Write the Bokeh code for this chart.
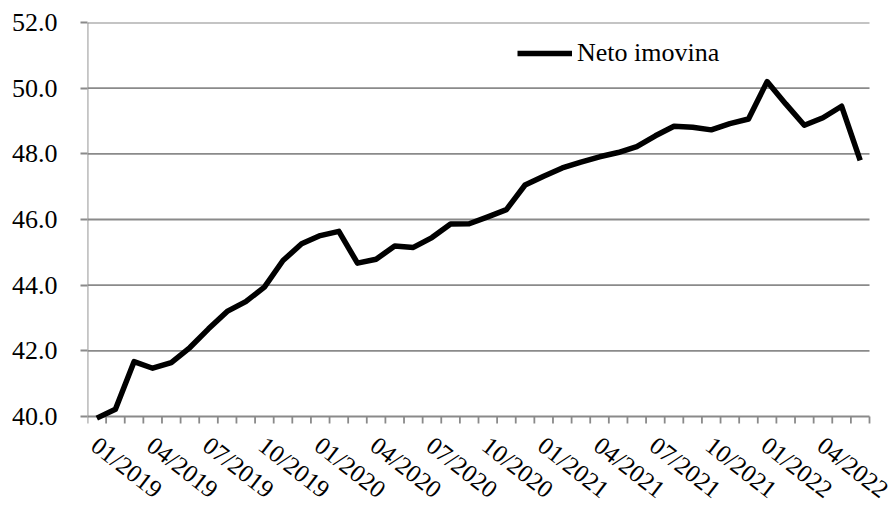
import math
from bokeh.plotting import figure
from bokeh.models import (Range1d, FixedTicker, PrintfTickFormatter, Legend, LegendItem, Label)
from bokeh.embed import file_html
from bokeh.resources import INLINE

# Monthly net assets, 01/2019 .. 06/2022
month_index = list(range(42))
neto_imovina = [
    39.95, 40.22, 41.67, 41.47, 41.64, 42.10, 42.67, 43.20, 43.50, 43.94,
    44.75, 45.26, 45.51, 45.64, 44.67, 44.79, 45.19, 45.15, 45.45, 45.86,
    45.87, 46.08, 46.30, 47.05, 47.32, 47.57, 47.75, 47.91, 48.04, 48.22,
    48.55, 48.84, 48.81, 48.73, 48.92, 49.06, 50.20, 49.52, 48.87, 49.10,
    49.45, 47.80,
]
tick_positions = [0, 3, 6, 9, 12, 15, 18, 21, 24, 27, 30, 33, 36, 39]
tick_labels = ["01/2019", "04/2019", "07/2019", "10/2019", "01/2020", "04/2020",
               "07/2020", "10/2020", "01/2021", "04/2021", "07/2021", "10/2021",
               "01/2022", "04/2022"]
y_ticks = [40, 42, 44, 46, 48, 50, 52]
series_name = "Neto imovina"

FONT = "Liberation Serif"
GRID = "#8a8a8a"
Y_MIN, Y_MAX = 40, 52
N = len(month_index)
X_LO, X_HI = -0.5, N - 0.5

# layout (pixels)
W, H = 895, 505
TOP, LEFT, AXIS_Y, PLOT_RIGHT = 22, 87, 416, 869
px_per_unit = (AXIS_Y - TOP) / (Y_MAX - Y_MIN)
px_per_cat = (PLOT_RIGHT - LEFT) / (X_HI - X_LO)
below = H - AXIS_Y                       # room under the axis for the slanted labels
y_start = Y_MIN - below / px_per_unit   # frame extends to the page bottom ...
x_end = X_HI + (W - PLOT_RIGHT) / px_per_cat  # ... and to the page right edge

p = figure(width=W, height=H, output_backend="svg", toolbar_location=None,
           x_range=Range1d(X_LO, x_end), y_range=Range1d(y_start, Y_MAX),
           min_border_left=LEFT, min_border_right=0, min_border_top=TOP, min_border_bottom=0)
p.outline_line_color = None
p.background_fill_color = "white"
p.border_fill_color = "white"
p.xaxis.visible = False
p.xgrid.grid_line_color = None
p.ygrid.grid_line_color = None

# horizontal grid lines across the plot area (the 40.0 line is the category axis line)
p.segment(x0=[X_LO] * len(y_ticks), y0=y_ticks, x1=[X_HI] * len(y_ticks), y1=y_ticks,
          line_color=GRID, line_width=1.8)
# value axis line and category tick marks between months
p.segment(x0=[X_LO], y0=[Y_MIN], x1=[X_LO], y1=[Y_MAX], line_color=GRID, line_width=1.8)
bounds = [i - 0.5 for i in range(N + 1)]
p.segment(x0=bounds, y0=[Y_MIN] * len(bounds), x1=bounds,
          y1=[Y_MIN - 7 / px_per_unit] * len(bounds), line_color=GRID, line_width=1.8)

line = p.line(month_index, neto_imovina, line_color="black", line_width=5.5, line_join="round")

for pos, lab in zip(tick_positions, tick_labels):
    p.add_layout(Label(x=pos, y=Y_MIN, text=lab, angle=-math.radians(38),
                       x_offset=6, y_offset=-15,
                       text_align="left", text_baseline="top",
                       text_font=FONT, text_font_size="25px", text_color="black"))

# y axis
ya = p.yaxis[0]
ya.ticker = FixedTicker(ticks=y_ticks, minor_ticks=[])
ya.formatter = PrintfTickFormatter(format="%.1f")
ya.major_tick_out = 7
ya.major_tick_in = 0
ya.major_tick_line_color = GRID
ya.major_tick_line_width = 1.8
ya.axis_line_color = None
ya.major_label_text_font = FONT
ya.major_label_text_font_size = "26px"
ya.major_label_text_color = "black"
ya.major_label_standoff = 23

legend = Legend(items=[LegendItem(label=series_name, renderers=[line])],
                location=(430, below + 348), orientation="vertical",
                border_line_color=None, background_fill_alpha=0,
                padding=0, margin=0, spacing=0,
                glyph_width=55, glyph_height=26, label_height=26,
                label_standoff=5, label_text_font=FONT,
                label_text_font_size="26px", label_text_color="black")
p.add_layout(legend, "center")

open("out.html", "w").write(file_html(p, INLINE))
